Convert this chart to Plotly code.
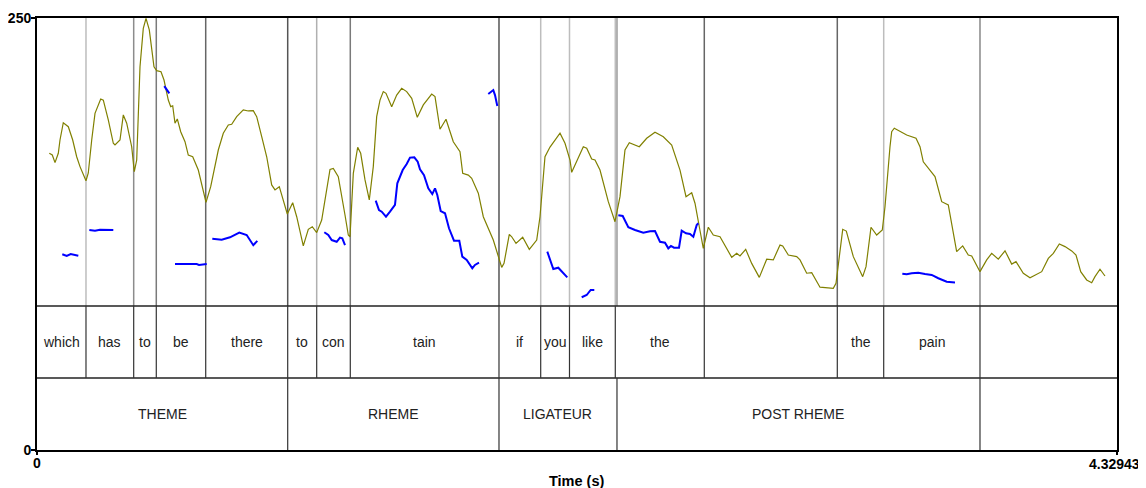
import plotly.graph_objects as go

T_END = 4.32943

# Olive contour (time s, value on 0-250 scale)
olive_t = [0.0493,0.0613,0.0722,0.0854,0.0922,0.1054,0.1255,0.1431,0.1591,0.1724,0.1964,0.2056,0.2193,0.2325,0.2554,0.2658,0.2858,0.3059,0.3127,0.3327,0.3460,0.3596,0.3796,0.3900,0.3997,0.4129,0.4261,0.4370,0.4502,0.4690,0.4798,0.4971,0.5091,0.5263,0.5360,0.5440,0.5532,0.5624,0.5761,0.5933,0.6065,0.6242,0.6466,0.6775,0.6963,0.7204,0.7268,0.7468,0.7669,0.7805,0.8005,0.8270,0.8470,0.8671,0.8807,0.9008,0.9208,0.9408,0.9541,0.9713,0.9849,1.0034,1.0250,1.0411,1.0675,1.0876,1.1036,1.1212,1.1413,1.1746,1.1878,1.2078,1.2347,1.2479,1.2547,1.2680,1.2856,1.2976,1.3149,1.3321,1.3481,1.3617,1.3750,1.3882,1.3990,1.4219,1.4419,1.4620,1.4820,1.5021,1.5245,1.5486,1.5822,1.5955,1.6155,1.6396,1.6688,1.6957,1.7065,1.7290,1.7426,1.7691,1.7891,1.8292,1.8629,1.8721,1.8933,1.9030,1.9202,1.9470,1.9735,2.0032,2.0164,2.0364,2.0565,2.0805,2.0966,2.1166,2.1367,2.1435,2.1900,2.2036,2.2236,2.2369,2.2569,2.2902,2.3170,2.3371,2.3571,2.3744,2.4145,2.4441,2.4774,2.5107,2.5443,2.5776,2.6017,2.6245,2.6377,2.6550,2.6710,2.6911,2.7111,2.7380,2.7580,2.7849,2.8049,2.8181,2.8410,2.8650,2.8955,2.9252,2.9516,2.9785,2.9893,3.0118,3.0454,3.0587,3.0855,3.1056,3.1388,3.1921,3.2030,3.2299,3.2443,3.2724,3.3100,3.3233,3.3433,3.3661,3.3886,3.3994,3.4194,3.4262,3.4367,3.4595,3.4864,3.5237,3.5397,3.5529,3.5798,3.5998,3.6267,3.6531,3.6867,3.7108,3.7333,3.7470,3.7802,3.8071,3.8271,3.8536,3.8805,3.9073,3.9245,3.9538,3.9807,4.0007,4.0276,4.0541,4.0741,4.0982,4.1210,4.1478,4.1651,4.1839,4.2079,4.2280,4.2412,4.2613,4.2813]
olive_v = [171.7,170.7,166.3,171.7,179.4,189.4,187.1,179.4,169.7,164.0,155.8,160.3,179.4,194.8,203.1,202.5,191.0,177.5,176.5,179.4,193.9,189.1,175.5,161.1,167.8,221.8,244.0,249.8,243.1,221.8,219.5,218.9,214.1,202.5,198.7,199.2,189.1,191.6,184.2,178.4,170.7,169.7,162.0,143.3,152.4,169.7,173.6,183.3,188.1,188.5,192.9,196.8,196.2,196.4,192.9,181.3,169.7,153.4,150.5,152.4,145.7,136.6,143.1,135.0,118.1,127.7,129.2,125.8,133.1,162.4,163.0,158.2,136.0,124.4,123.4,160.1,175.2,171.7,156.3,144.7,164.0,192.9,202.5,207.4,206.4,198.7,205.4,209.3,207.4,203.5,192.5,199.7,206.0,204.5,185.6,191.4,178.4,172.6,160.1,159.1,157.2,148.6,135.0,121.5,105.7,108.0,124.8,123.4,119.6,123.1,116.1,121.5,135.0,169.7,175.3,180.0,183.3,177.5,167.8,160.7,175.5,174.6,168.4,167.8,162.0,143.7,132.1,146.6,173.6,177.8,175.5,180.4,183.9,181.3,176.5,162.0,146.6,148.9,142.8,129.2,116.7,128.9,124.4,123.4,118.6,111.5,113.8,112.3,116.1,108.0,99.9,110.4,110.0,118.6,118.1,112.8,111.9,110.0,102.3,102.6,94.2,93.6,96.5,127.7,126.7,111.9,100.3,106.1,128.9,124.4,127.3,140.8,175.5,184.2,186.2,184.2,182.3,180.4,175.5,166.8,162.0,158.2,143.7,141.8,114.8,118.1,112.8,112.3,103.2,110.0,113.8,110.4,115.3,107.6,109.0,102.3,99.7,101.3,103.2,110.9,113.8,119.2,117.7,115.2,112.8,103.2,98.4,96.8,100.3,104.6,100.7]

# Blue pitch (Hz), None = unvoiced gap
pitch_t = [0.1014,0.1191,0.1351,0.1656,None,
           0.2097,0.2325,0.2525,0.3059,None,
           0.5103,0.5199,0.5304,None,
           0.5532,0.6402,0.6494,0.6803,None,
           0.7027,0.7404,0.7737,0.8110,0.8406,0.8671,0.8831,None,
           1.1517,1.1677,1.1814,1.2014,1.2146,1.2239,1.2347,None,
           1.3578,1.3710,1.3818,1.3990,1.4151,1.4351,1.4444,1.4660,1.4820,1.4953,1.5125,1.5261,1.5353,1.5514,1.5686,1.5846,1.5955,1.6047,1.6183,1.6356,1.6516,1.6716,1.6929,1.7049,1.7226,1.7450,1.7558,1.7719,None,
           1.8091,1.8292,1.8360,1.8452,None,
           2.0456,2.0633,2.0697,2.0897,2.1098,2.1258,None,
           2.1835,2.2036,2.2196,2.2341,None,
           2.3303,2.3479,2.3704,2.3972,2.4305,2.4574,2.4774,2.4974,2.5175,2.5307,2.5415,2.5536,2.5736,2.5844,2.6017,2.6177,2.6310,2.6446,2.6510,None,
           3.4688,3.4864,3.5064,3.5329,3.5598,3.5866,3.6131,3.6467,3.6800]
pitch_v = [113.3,112.3,113.4,112.4,None,
           127.3,126.9,127.5,127.3,None,
           210.6,208.3,206.4,None,
           107.6,107.6,107.1,107.6,None,
           122.3,121.7,123.1,125.8,124.4,118.5,121.0,None,
           126.0,124.4,121.5,120.5,122.9,122.5,118.6,None,
           144.3,138.9,137.9,135.0,137.9,141.8,154.3,162.0,165.5,169.2,169.4,166.8,162.4,159.1,151.4,148.1,151.4,147.6,138.3,137.0,128.3,121.1,121.1,111.9,110.0,105.2,107.1,108.4,None,
           206.0,208.3,205.4,199.1,None,
           114.8,107.1,104.7,105.5,102.3,99.9,None,
           88.4,89.7,92.6,92.6,None,
           135.8,135.4,128.9,127.3,125.8,126.6,126.7,120.5,120.0,116.7,118.1,117.1,117.1,126.9,125.4,125.0,123.4,130.2,131.2,None,
           102.0,101.7,102.3,102.6,101.9,101.3,99.4,97.4,97.0]

# Word tier
word_bounds = [0.1964,0.3876,0.4782,0.6763,1.0050,1.1212,1.2559,1.8520,2.0192,2.1346,2.3182,2.6750,3.2082,3.3942,3.7802]
word_labels = ["which","has","to","be","there","to","con","tain","if","you","like","the","","the","pain",""]

# Phrase tier
phrase_bounds = [1.0050,1.8520,2.3250,3.7802]
phrase_labels = ["THEME","RHEME","LIGATEUR","POST RHEME",""]

# Axis ticks
x_ticks = [0, T_END]
x_tick_labels = ["0", "4.32943"]
y_ticks = [0, 250]
y_tick_labels = ["0", "250"]

Y_MAX = 250
TIER_H = Y_MAX / 6.0
PITCH_BOTTOM = 2 * TIER_H

FONT = "Liberation Sans, Arial, Helvetica, sans-serif"
TICK_SIZE = 14

word_line_col = ["#bdbdbd","#8c8c8c","#7a7a7a","#666666","#555555","#b0b0b0","#7a7a7a","#555555",
                 "#bdbdbd","#bdbdbd","#bdbdbd","#666666","#666666","#bdbdbd","#888888"]

fig = go.Figure()

shapes = []
for b, c in zip(word_bounds, word_line_col):
    shapes.append(dict(type="line", xref="x", yref="y", x0=b, x1=b, y0=PITCH_BOTTOM, y1=Y_MAX,
                       line=dict(color=c, width=1.5), layer="below"))
for b in phrase_bounds:
    if b not in word_bounds:
        shapes.append(dict(type="line", xref="x", yref="y", x0=b, x1=b, y0=PITCH_BOTTOM, y1=Y_MAX,
                           line=dict(color="#999999", width=1.5), layer="below"))
for yy in (PITCH_BOTTOM, TIER_H):
    shapes.append(dict(type="line", xref="x", yref="y", x0=0, x1=T_END, y0=yy, y1=yy,
                       line=dict(color="#222222", width=1.5)))
for b in word_bounds:
    shapes.append(dict(type="line", xref="x", yref="y", x0=b, x1=b, y0=TIER_H, y1=PITCH_BOTTOM,
                       line=dict(color="#333333", width=1.2)))
for b in phrase_bounds:
    shapes.append(dict(type="line", xref="x", yref="y", x0=b, x1=b, y0=0, y1=TIER_H,
                       line=dict(color="#333333", width=1.2)))

annotations = []
edges = [0] + word_bounds + [T_END]
for i, lab in enumerate(word_labels):
    if lab:
        annotations.append(dict(x=(edges[i] + edges[i + 1]) / 2, y=1.5 * TIER_H, xref="x", yref="y",
                                text=lab, showarrow=False, font=dict(family=FONT, size=14, color="#222222")))
edges = [0] + phrase_bounds + [T_END]
for i, lab in enumerate(phrase_labels):
    if lab:
        annotations.append(dict(x=(edges[i] + edges[i + 1]) / 2, y=0.5 * TIER_H, xref="x", yref="y",
                                text=lab, showarrow=False, font=dict(family=FONT, size=14, color="#222222")))
# x-axis title
annotations.append(dict(x=0.5, y=0, xref="paper", yref="paper", yshift=-31, yanchor="middle",
                        text="<b>Time (s)</b>", showarrow=False,
                        font=dict(family=FONT, size=14.5, color="black")))
# right-end x tick label, kept fully inside the page
annotations.append(dict(x=x_ticks[1], y=0, xref="x", yref="paper", xanchor="right", xshift=25,
                        yanchor="middle", yshift=-14, text="<b>" + x_tick_labels[1] + "</b>",
                        showarrow=False, font=dict(family=FONT, size=TICK_SIZE, color="black")))

fig.add_trace(go.Scatter(x=olive_t, y=olive_v, mode="lines", line=dict(color="#808000", width=1.2),
                         hoverinfo="skip", showlegend=False))
fig.add_trace(go.Scatter(x=pitch_t, y=pitch_v, mode="lines", line=dict(color="#0000ff", width=2),
                         connectgaps=False, hoverinfo="skip", showlegend=False))

# page body adds an 8px offset: size the figure so the frame lands at x 37..1117, y 18..450
fig.update_layout(
    width=1138, height=480,
    margin=dict(l=29, r=29, t=10, b=38),
    paper_bgcolor="white", plot_bgcolor="white",
    shapes=shapes, annotations=annotations,
    font=dict(family=FONT, color="black"),
    xaxis=dict(range=[0, T_END], tickvals=x_ticks,
               ticktext=["<b>" + x_tick_labels[0] + "</b>", ""],
               ticks="outside", ticklen=3, tickwidth=1.5, tickcolor="black",
               tickfont=dict(family=FONT, size=TICK_SIZE, color="black"), ticklabelstandoff=-4,
               showline=True, linecolor="black", linewidth=2, mirror=True,
               showgrid=False, zeroline=False, automargin=False),
    yaxis=dict(range=[0, Y_MAX], tickvals=y_ticks,
               ticktext=["<b>" + t + "</b>" for t in y_tick_labels],
               ticks="outside", ticklen=4, tickwidth=1.5, tickcolor="black",
               tickfont=dict(family=FONT, size=TICK_SIZE, color="black"), ticklabelstandoff=-3,
               showline=True, linecolor="black", linewidth=2, mirror=True,
               showgrid=False, zeroline=False, automargin=False),
)

fig.write_html("out.html")
